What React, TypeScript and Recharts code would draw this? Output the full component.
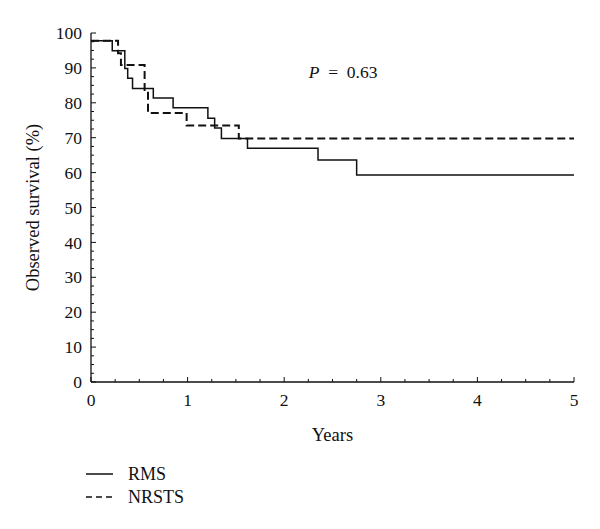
import { LineChart, Line, XAxis, YAxis, ReferenceDot } from 'recharts';

// Kaplan-Meier steps (years, % surviving)
const rmsYears = [0, 0.22, 0.35, 0.38, 0.43, 0.645, 0.85, 1.21, 1.28, 1.35, 1.62, 2.35, 2.75, 5];
const rmsSurvival = [97.8, 94.9, 89.8, 87.0, 84.1, 81.4, 78.6, 75.6, 72.8, 69.8, 67.0, 63.6, 59.3, 59.3];

const nrstsYears = [0, 0.28, 0.31, 0.555, 0.59, 0.99, 1.53, 5];
const nrstsSurvival = [97.8, 94.2, 90.8, 83.2, 77.1, 73.5, 69.8, 69.8];

const xMajorTicks = [0, 1, 2, 3, 4, 5];
const yMajorTicks = [0, 10, 20, 30, 40, 50, 60, 70, 80, 90, 100];
const xTicks = xMajorTicks.flatMap((v, i) => (i === 0 ? [v] : [v - 0.75, v - 0.5, v - 0.25, v]));
const yTicks = yMajorTicks.flatMap((v, i) => (i === 0 ? [v] : [v - 7.5, v - 5, v - 2.5, v]));

const pValue = '0.63';
const seriesNames = ['RMS', 'NRSTS'];

const rmsData = rmsYears.map((t, i) => ({ t, s: rmsSurvival[i] }));
const nrstsData = nrstsYears.map((t, i) => ({ t, s: nrstsSurvival[i] }));

const FONT = 'Liberation Serif';
const INK = '#111';

function XTick(props: any) {
  const { x, y, payload } = props;
  const major = xMajorTicks.includes(payload.value);
  return (
    <g>
      <line x1={x} x2={x} y1={y} y2={y - (major ? 5 : 3)} stroke={INK} strokeWidth={1} />
      {major && (
        <text x={x} y={y + 24} textAnchor="middle" fontSize={17.5} fontFamily={FONT} fill={INK}>
          {payload.value}
        </text>
      )}
    </g>
  );
}

function YTick(props: any) {
  const { x, y, payload } = props;
  const major = yMajorTicks.includes(payload.value);
  return (
    <g>
      <line x1={x} x2={x + (major ? 5 : 3)} y1={y} y2={y} stroke={INK} strokeWidth={1} />
      {major && (
        <text x={x - 9} y={y} dy="0.35em" textAnchor="end" fontSize={17.5} fontFamily={FONT} fill={INK}>
          {payload.value}
        </text>
      )}
    </g>
  );
}

export default function App() {
  return (
    <div
      style={{
        position: 'absolute',
        left: 0,
        top: 0,
        width: 600,
        height: 529,
        background: '#fff',
        fontFamily: FONT,
        color: INK,
      }}
    >
      <LineChart width={600} height={529} margin={{ top: 33, right: 26, left: 0, bottom: 0 }} style={{ fontFamily: FONT }}>
        <XAxis
          dataKey="t"
          type="number"
          domain={[0, 5]}
          ticks={xTicks}
          interval={0}
          tickSize={0}
          tickMargin={0}
          tickLine={false}
          tick={(p: any) => <XTick {...p} />}
          axisLine={{ stroke: INK, strokeWidth: 1.3 }}
          height={147}
          allowDataOverflow
          label={(p: any) => {
            const vb = p.viewBox;
            return (
              <text x={vb.x + vb.width / 2} y={vb.y + 53} dy="0.35em" textAnchor="middle" fontSize={18.5} fontFamily={FONT} fill={INK}>
                Years
              </text>
            );
          }}
        />
        <XAxis
          xAxisId="top"
          orientation="top"
          type="number"
          domain={[0, 5]}
          height={0}
          tick={false}
          tickLine={false}
          axisLine={{ stroke: INK, strokeWidth: 1.3 }}
        />
        <YAxis
          type="number"
          domain={[0, 100]}
          ticks={yTicks}
          interval={0}
          tickSize={0}
          tickMargin={0}
          tickLine={false}
          tick={(p: any) => <YTick {...p} />}
          axisLine={{ stroke: INK, strokeWidth: 1.3 }}
          width={91}
          allowDataOverflow
          label={(p: any) => {
            const vb = p.viewBox;
            const cx = vb.x + 33;
            const cy = vb.y + vb.height / 2;
            return (
              <text
                x={cx}
                y={cy}
                dy="0.35em"
                textAnchor="middle"
                fontSize={18.5}
                fontFamily={FONT}
                fill={INK}
                transform={`rotate(-90, ${cx}, ${cy})`}
              >
                Observed survival (%)
              </text>
            );
          }}
        />
        <YAxis
          yAxisId="right"
          orientation="right"
          type="number"
          domain={[0, 100]}
          width={0}
          tick={false}
          tickLine={false}
          axisLine={{ stroke: INK, strokeWidth: 1.3 }}
        />
        <Line
          data={rmsData}
          dataKey="s"
          type="stepAfter"
          stroke={INK}
          strokeWidth={1.5}
          dot={false}
          activeDot={false}
          isAnimationActive={false}
        />
        <Line
          data={nrstsData}
          dataKey="s"
          type="stepAfter"
          stroke={INK}
          strokeWidth={2}
          strokeDasharray="8 4"
          dot={false}
          activeDot={false}
          isAnimationActive={false}
        />
        <ReferenceDot
          x={2.61}
          y={88.8}
          r={1}
          fill="none"
          stroke="none"
          label={(p: any) => {
            const vb = p.viewBox;
            return (
              <text
                x={vb.x + vb.width / 2}
                y={vb.y + vb.height / 2}
                dy="0.35em"
                textAnchor="middle"
                fontSize={17.5}
                fontFamily={FONT}
                fill={INK}
              >
                <tspan fontStyle="italic">P</tspan>
                {'\u2002=\u2002' + pValue}
              </text>
            );
          }}
        />
      </LineChart>
      <div style={{ position: 'absolute', left: 86, top: 462.5 }}>
        {seriesNames.map((name, i) => (
          <div key={name} style={{ display: 'flex', alignItems: 'center', height: 23 }}>
            <svg width={28} height={10}>
              <line
                x1={0}
                x2={27}
                y1={5}
                y2={5}
                stroke={INK}
                strokeWidth={1.5}
                strokeDasharray={i === 1 ? '6 4' : undefined}
              />
            </svg>
            <span style={{ marginLeft: 14, fontSize: 18, fontFamily: FONT }}>{name}</span>
          </div>
        ))}
      </div>
    </div>
  );
}
